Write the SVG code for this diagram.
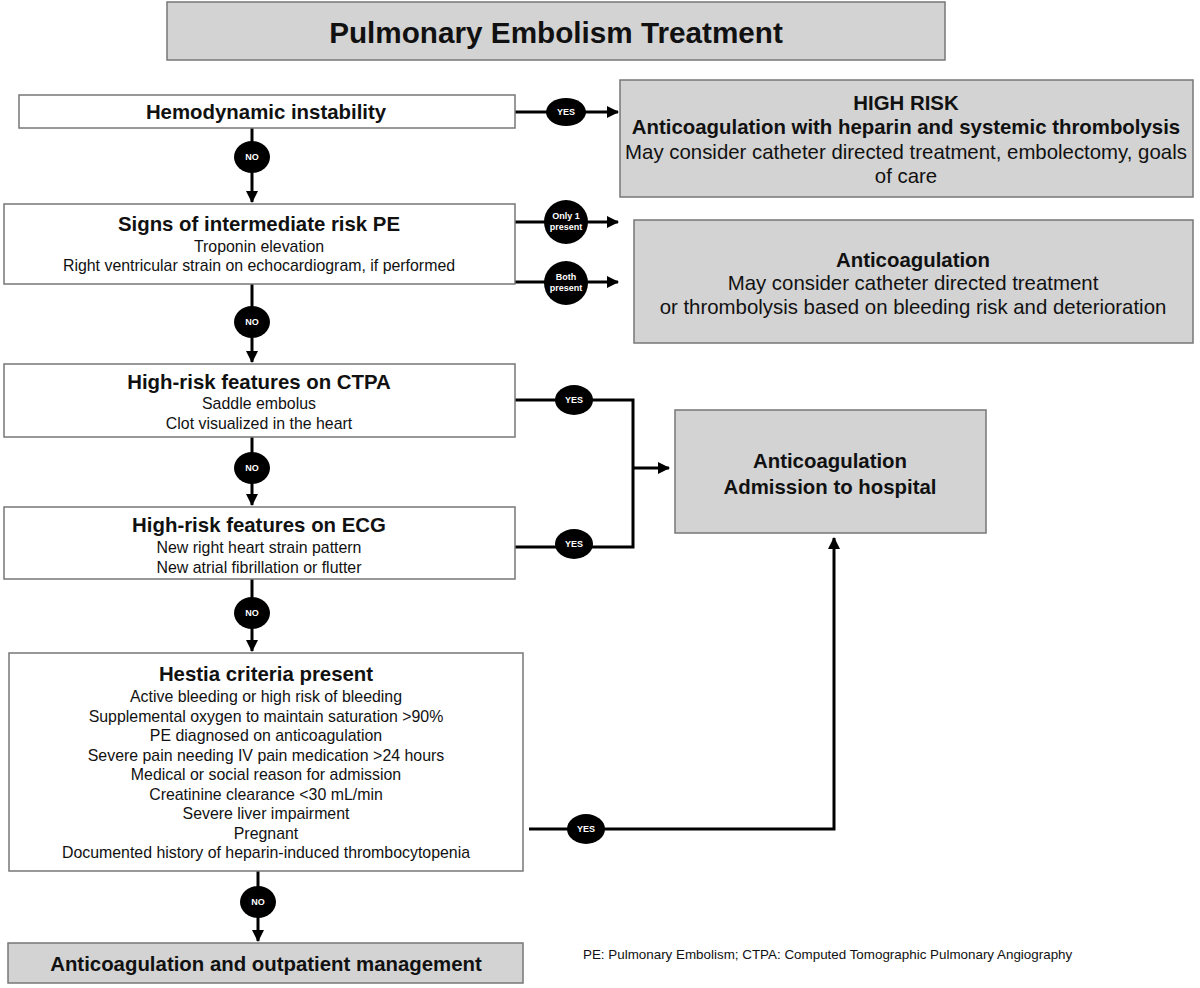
<svg xmlns="http://www.w3.org/2000/svg" width="1200" height="988" viewBox="0 0 1200 988">
<defs>
<marker id="ah" markerWidth="12" markerHeight="12" refX="11" refY="6" orient="auto" markerUnits="userSpaceOnUse">
<path d="M0,0 L12,6 L0,12 z" fill="#000"/>
</marker>
<style>
text{font-family:"Liberation Sans",Arial,sans-serif;fill:#111;text-anchor:middle}
.box{fill:#fff;stroke:#777;stroke-width:1.5}
.gbox{fill:#d3d3d3;stroke:#777;stroke-width:1.5}
.h{font-weight:bold;font-size:20.4px}
.t{font-size:15.9px}
.r{font-size:20.4px}
.ln{fill:none;stroke:#000;stroke-width:3}
.lab{font-size:9px;font-weight:bold;fill:#fff}
</style>
</defs>
<rect width="1200" height="988" fill="#fff"/>
<g id="title">
<rect class="gbox" x="167" y="2" width="778" height="58"/>
<text x="556" y="43" style="font-weight:bold;font-size:29.7px">Pulmonary Embolism Treatment</text>
</g>
<g id="connectors">
<line class="ln" x1="515" y1="112" x2="618" y2="112" marker-end="url(#ah)"/>
<line class="ln" x1="252" y1="128" x2="252" y2="202" marker-end="url(#ah)"/>
<line class="ln" x1="515" y1="222" x2="618" y2="222" marker-end="url(#ah)"/>
<line class="ln" x1="515" y1="282" x2="618" y2="282" marker-end="url(#ah)"/>
<line class="ln" x1="252" y1="284" x2="252" y2="362" marker-end="url(#ah)"/>
<polyline class="ln" points="515,400 633,400 633,547 515,547"/>
<line class="ln" x1="633" y1="468" x2="669" y2="468" marker-end="url(#ah)"/>
<line class="ln" x1="252" y1="436" x2="252" y2="505" marker-end="url(#ah)"/>
<line class="ln" x1="252" y1="578" x2="252" y2="651" marker-end="url(#ah)"/>
<polyline class="ln" points="529,829 834,829 834,538" marker-end="url(#ah)"/>
<line class="ln" x1="258" y1="871" x2="258" y2="941" marker-end="url(#ah)"/>
<ellipse cx="566" cy="112" rx="20" ry="14"/><text class="lab" x="566" y="115">YES</text>
<ellipse cx="252" cy="157" rx="18" ry="16"/><text class="lab" x="252" y="160">NO</text>
<circle cx="566" cy="222" r="22"/><text class="lab" x="566" y="219">Only 1</text><text class="lab" x="566" y="230">present</text>
<circle cx="566" cy="283" r="22"/><text class="lab" x="566" y="280">Both</text><text class="lab" x="566" y="291">present</text>
<ellipse cx="252" cy="322" rx="18" ry="16"/><text class="lab" x="252" y="325">NO</text>
<ellipse cx="574" cy="400" rx="19" ry="15"/><text class="lab" x="574" y="403">YES</text>
<ellipse cx="252" cy="468" rx="18" ry="16"/><text class="lab" x="252" y="471">NO</text>
<ellipse cx="574" cy="544" rx="19" ry="15"/><text class="lab" x="574" y="547">YES</text>
<ellipse cx="252" cy="613" rx="18" ry="16"/><text class="lab" x="252" y="616">NO</text>
<ellipse cx="586" cy="829" rx="19" ry="15"/><text class="lab" x="586" y="832">YES</text>
<ellipse cx="258" cy="902" rx="18" ry="16"/><text class="lab" x="258" y="905">NO</text>
</g>
<g id="n1">
<rect class="box" x="19" y="95" width="496" height="33"/>
<text class="h" x="266" y="119">Hemodynamic instability</text>
</g>
<g id="highrisk">
<rect class="gbox" x="620" y="80" width="573" height="117"/>
<text class="h" x="906" y="110">HIGH RISK</text>
<text class="h" x="906" y="134">Anticoagulation with heparin and systemic thrombolysis</text>
<text class="r" x="906" y="159">May consider catheter directed treatment, embolectomy, goals</text>
<text class="r" x="906" y="183">of care</text>
</g>
<g id="n2">
<rect class="box" x="4" y="204" width="511" height="80"/>
<text class="h" x="259" y="231">Signs of intermediate risk PE</text>
<text class="t" x="259" y="252">Troponin elevation</text>
<text class="t" x="259" y="271">Right ventricular strain on echocardiogram, if performed</text>
</g>
<g id="anticoag1">
<rect class="gbox" x="634" y="220" width="559" height="123"/>
<text class="h" x="913" y="267">Anticoagulation</text>
<text class="r" x="913" y="290">May consider catheter directed treatment</text>
<text class="r" x="913" y="314">or thrombolysis based on bleeding risk and deterioration</text>
</g>
<g id="n3">
<rect class="box" x="4" y="364" width="511" height="73"/>
<text class="h" x="259" y="389">High-risk features on CTPA</text>
<text class="t" x="259" y="409">Saddle embolus</text>
<text class="t" x="259" y="429">Clot visualized in the heart</text>
</g>
<g id="admission">
<rect class="gbox" x="675" y="410" width="311" height="123"/>
<text class="h" x="830" y="468">Anticoagulation</text>
<text class="h" x="830" y="494">Admission to hospital</text>
</g>
<g id="n4">
<rect class="box" x="4" y="507" width="511" height="72"/>
<text class="h" x="259" y="532">High-risk features on ECG</text>
<text class="t" x="259" y="553">New right heart strain pattern</text>
<text class="t" x="259" y="573">New atrial fibrillation or flutter</text>
</g>
<g id="n5">
<rect class="box" x="9" y="653" width="514" height="218"/>
<text class="h" x="266" y="681">Hestia criteria present</text>
<text class="t" x="266" y="702">Active bleeding or high risk of bleeding</text>
<text class="t" x="266" y="721.5">Supplemental oxygen to maintain saturation &gt;90%</text>
<text class="t" x="266" y="741">PE diagnosed on anticoagulation</text>
<text class="t" x="266" y="760.5">Severe pain needing IV pain medication &gt;24 hours</text>
<text class="t" x="266" y="780">Medical or social reason for admission</text>
<text class="t" x="266" y="799.5">Creatinine clearance &lt;30 mL/min</text>
<text class="t" x="266" y="819">Severe liver impairment</text>
<text class="t" x="266" y="838.5">Pregnant</text>
<text class="t" x="266" y="858">Documented history of heparin-induced thrombocytopenia</text>
</g>
<g id="outpatient">
<rect class="gbox" x="8" y="943" width="515" height="40"/>
<text class="h" x="266" y="971">Anticoagulation and outpatient management</text>
</g>
<g id="footnote">
<text x="583" y="959" style="font-size:13.4px;text-anchor:start">PE: Pulmonary Embolism; CTPA: Computed Tomographic Pulmonary Angiography</text>
</g>
</svg>
